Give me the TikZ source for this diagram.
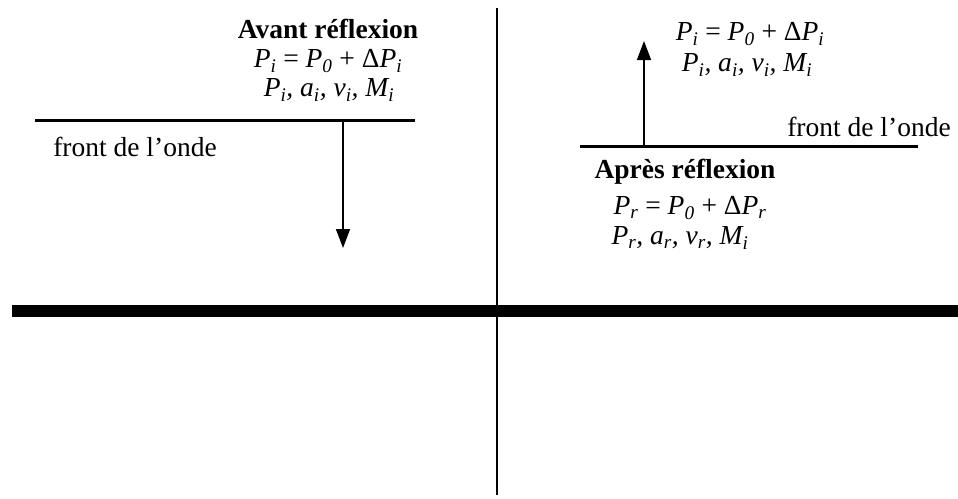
\documentclass[tikz,border=0pt]{standalone}
\usepackage{fontspec}
\setmainfont{Liberation Serif}
\usetikzlibrary{arrows.meta}
\newcommand\sbs[1]{\textsubscript{\itshape #1}}
\tikzset{
  lbl/.style={inner sep=0pt, anchor=center, font=\fontsize{27.5}{30}\selectfont},
  frontline/.style={line width=3pt},
  axisline/.style={line width=1.5pt},
  wall/.style={line width=12pt},
  wavearrow/.style={line width=1.5pt, -{Triangle[length=19pt,width=14pt]}}
}
\begin{document}
\begin{tikzpicture}[x=1pt,y=-1pt]
\useasboundingbox (0,0) rectangle (958,498);
% coordinates
\coordinate (vtop) at (497,8);
\coordinate (vbot) at (497,495);
\coordinate (wl) at (12,311);
\coordinate (wr) at (958,311);
\coordinate (fl1) at (35,120);
\coordinate (fl2) at (415,120);
\coordinate (fr1) at (580,146);
\coordinate (fr2) at (918,146);
\coordinate (al1) at (343,120);
\coordinate (al2) at (343,248);
\coordinate (ar1) at (644,146);
\coordinate (ar2) at (644,41);
% lines
\draw[axisline] (vtop) -- (vbot);
\draw[wall] (wl) -- (wr);
\draw[frontline] (fl1) -- (fl2);
\draw[frontline] (fr1) -- (fr2);
\draw[wavearrow] (al1) -- (al2);
\draw[wavearrow] (ar1) -- (ar2);
% left texts
\node[lbl] (avant) at (328,29) {\textbf{Avant réflexion}};
\node[lbl] (eqi) at (328,61) {\textit{P}\sbs{i} = \textit{P}\sbs{0} + Δ\textit{P}\sbs{i}};
\node[lbl] (vari) at (329,90) {\textit{P\sbs{i}, a\sbs{i}, v\sbs{i}, M\sbs{i}}};
\node[lbl] (frontL) at (135,147) {front de l’onde};
% right texts
\node[lbl] (eqi2) at (750,34) {\textit{P}\sbs{i} = \textit{P}\sbs{0} + Δ\textit{P}\sbs{i}};
\node[lbl] (vari2) at (747,65) {\textit{P\sbs{i}, a\sbs{i}, v\sbs{i}, M\sbs{i}}};
\node[lbl] (frontR) at (869,127) {front de l’onde};
\node[lbl] (apres) at (685,172) {\textbf{Après réflexion}};
\node[lbl] (eqr) at (690,208) {\textit{P}\sbs{r} = \textit{P}\sbs{0} + Δ\textit{P}\sbs{r}};
\node[lbl] (varr) at (680,238) {\textit{P\sbs{r}, a\sbs{r}, v\sbs{r}, M\sbs{i}}};
\end{tikzpicture}
\end{document}
